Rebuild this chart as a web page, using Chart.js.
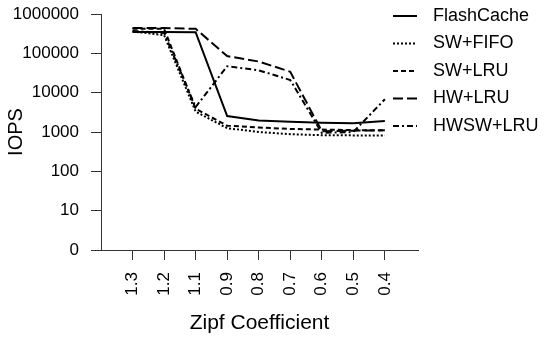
<!DOCTYPE html>
<html>
<head>
<meta charset="utf-8">
<script src="https://cdn.jsdelivr.net/npm/chart.js@4"></script>
<style>
  html, body { margin: 0; padding: 0; background: #fff; }
  #wrap { width: 550px; height: 338px; position: relative; }
</style>
</head>
<body>
<div id="wrap"><canvas id="chart"></canvas></div>
<script>
// ── data ──
const zipfLabels  = ["1.3", "1.2", "1.1", "0.9", "0.8", "0.7", "0.6", "0.5", "0.4"];
const yTickValues = [1, 10, 100, 1000, 10000, 100000, 1000000];

const flashCache = [350000, 350000, 345000, 2550, 1950, 1820, 1720, 1680, 1900];
const swFifo     = [360000, 290000, 3300, 1250, 1000, 880, 830, 820, 820];
const swLru      = [420000, 420000, 3900, 1450, 1300, 1200, 1150, 1120, 1100];
const hwLru      = [440000, 440000, 420000, 85000, 62000, 34000, 1050, 1080, 1100];
const hwswLru    = [370000, 330000, 4300, 47000, 37000, 21000, 950, 1000, 6800];

const FONT = "'Liberation Sans', Arial, Helvetica, sans-serif";
const AXIS = "#333";

function toPoints(arr) {
  return arr.map((v, i) => ({ x: i, y: v }));
}

function makeDS(label, data, dash) {
  return {
    label,
    data: toPoints(data),
    borderColor: "#000",
    backgroundColor: "#000",
    borderWidth: 2,
    borderDash: dash,
    fill: false,
    tension: 0,
    pointRadius: 0
  };
}

// ── legend drawn beside the plot, line samples + labels ──
const lineLegend = {
  id: "lineLegend",
  afterDraw(chart) {
    const ctx = chart.ctx;
    chart.data.datasets.forEach((ds, i) => {
      const y = 16 + i * 27.5;
      ctx.save();
      ctx.strokeStyle = ds.borderColor;
      ctx.lineWidth = ds.borderWidth;
      ctx.setLineDash(ds.borderDash || []);
      ctx.beginPath();
      ctx.moveTo(393, y);
      ctx.lineTo(417, y);
      ctx.stroke();
      ctx.setLineDash([]);
      ctx.fillStyle = "#000";
      ctx.font = "18px " + FONT;
      ctx.textBaseline = "middle";
      ctx.fillText(ds.label, 433, y);
      ctx.restore();
    });
  }
};

function noPad(s) {
  s.paddingTop = 0;
  s.paddingBottom = 0;
  s.paddingLeft = 0;
  s.paddingRight = 0;
}

new Chart(document.getElementById("chart"), {
  type: "line",
  data: {
    datasets: [
      makeDS("FlashCache", flashCache, []),
      makeDS("SW+FIFO",    swFifo,     [2, 2]),
      makeDS("SW+LRU",     swLru,      [5, 3]),
      makeDS("HW+LRU",     hwLru,      [10, 4]),
      makeDS("HWSW+LRU",   hwswLru,    [6, 3, 2, 3])
    ]
  },
  options: {
    responsive: true,
    maintainAspectRatio: false,
    animation: false,
    layout: { padding: { top: 14, right: 132, left: 0, bottom: 0 } },
    plugins: {
      legend: { display: false },
      tooltip: { enabled: false }
    },
    scales: {
      x: {
        type: "linear",
        min: -1,
        max: 9.05,
        afterBuildTicks: s => { s.ticks = zipfLabels.map((_, i) => ({ value: i })); },
        afterFit: s => { s.height = 88; noPad(s); },
        grid: { drawOnChartArea: false, drawTicks: true, tickLength: 10, color: AXIS, lineWidth: 1 },
        border: { display: true, color: AXIS, width: 1 },
        ticks: {
          autoSkip: false,
          minRotation: 90,
          maxRotation: 90,
          padding: 12,
          color: "#000",
          font: { family: FONT, size: 17 },
          callback: v => zipfLabels[v] ?? ""
        },
        title: {
          display: true,
          text: "Zipf Coefficient",
          color: "#000",
          font: { family: FONT, size: 21 },
          padding: { top: 4, bottom: 2 }
        }
      },
      y: {
        type: "logarithmic",
        min: 1,
        max: 1000000,
        afterBuildTicks: s => { s.ticks = yTickValues.map(v => ({ value: v })); },
        afterFit: s => { s.width = 101; noPad(s); },
        grid: { drawOnChartArea: false, drawTicks: true, tickLength: 10, color: AXIS, lineWidth: 1 },
        border: { display: true, color: AXIS, width: 1 },
        ticks: {
          padding: 12,
          color: "#000",
          font: { family: FONT, size: 17 },
          callback: v => (v === 1 ? "0" : String(v))
        },
        title: {
          display: true,
          text: "IOPS",
          color: "#000",
          font: { family: FONT, size: 20 },
          padding: { top: 4, bottom: 4 }
        }
      }
    }
  },
  plugins: [lineLegend]
});
</script>
</body>
</html>
